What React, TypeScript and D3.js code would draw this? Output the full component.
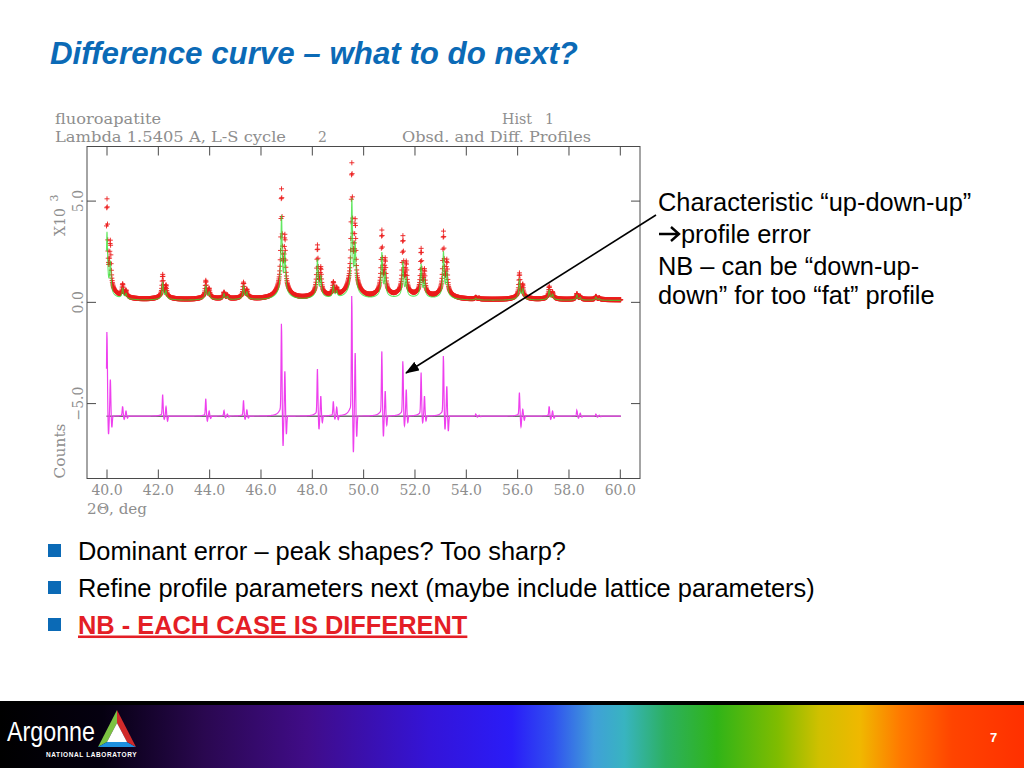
import { useMemo } from 'react';
import * as d3 from 'd3';

// ---- peak table (2θ in deg, counts in units of 10^3) ----
const peakPos = [40.0, 40.61, 42.17, 43.85, 44.56, 45.32, 46.8, 48.2, 48.82, 49.54, 50.71, 51.53, 52.24, 53.11, 54.37, 56.07, 57.23, 58.31, 59.05];
const obsTop = [5.1, 0.78, 1.36, 1.06, 0.46, 0.95, 5.58, 2.75, 0.82, 6.83, 3.46, 3.17, 2.54, 3.46, 0.21, 1.44, 0.78, 0.42, 0.29];
const calcTop = [3.5, 0.62, 0.96, 0.82, 0.4, 0.8, 4.31, 2.1, 0.7, 5.14, 2.43, 1.97, 1.85, 2.51, 0.18, 1.11, 0.62, 0.36, 0.25];

// difference curve: up-down-up-down spikes around each peak (K-alpha1 then K-alpha2)
const diffUp1 = [3.97, 0.46, 0.98, 0.79, 0.25, 0.71, 4.35, 2.13, 0.66, 5.66, 2.93, 2.58, 1.97, 2.83, 0.1, 1.07, 0.46, 0.28, 0.1];
const diffDown1 = [0.9, 0.16, 0.16, 0.25, 0.08, 0.16, 1.48, 0.66, 0.16, 1.8, 1.01, 0.49, 0.33, 0.66, 0.05, 0.53, 0.16, 0.1, 0.05];
const diffUp2 = [1.81, 0.25, 0.46, 0.25, 0.1, 0.3, 2.22, 0.98, 0.41, 3.12, 1.23, 1.31, 0.98, 1.48, 0.05, 0.33, 0.25, 0.15, 0.05];
const diffDown2 = [0.56, 0.1, 0.25, 0.12, 0.05, 0.1, 0.9, 0.33, 0.2, 1.02, 0.46, 0.33, 0.25, 0.74, 0.03, 0.2, 0.1, 0.05, 0.03];

const xTicks = [40, 42, 44, 46, 48, 50, 52, 54, 56, 58, 60];
const xTickLabels = ['40.0', '42.0', '44.0', '46.0', '48.0', '50.0', '52.0', '54.0', '56.0', '58.0', '60.0'];
const yTicks = [5, 0, -5];
const yTickLabels = ['5.0', '0.0', '\u22125.0'];

const OBS_BG = 0.12;
const CALC_BG = 0.09;
const DIFF_ZERO = -5.62;
const KA2_SHIFT = 0.13;
const DATA_START = 39.98;
const DATA_END = 60.02;
const STEP = 0.01;

const bullets = [
  'Dominant error \u2013 peak shapes? Too sharp?',
  'Refine profile parameters next (maybe include lattice parameters)',
];
const noteLines = [
  'Characteristic \u201cup-down-up\u201d',
  'profile error',
  'NB \u2013 can be \u201cdown-up-',
  'down\u201d for too \u201cfat\u201d profile',
];
const noteBaselines = [211, 243, 275, 304];

// plot frame
const F = { left: 87, right: 640, top: 146.5, bottom: 478.5 };
const CHART_FONT = '"DejaVu Serif", serif';
const SANS = '"Liberation Sans", Arial, sans-serif';
const CHART_GRAY = '#8e8e8e';
const BLUE = '#0b6ab6';

const lorentz = (d: number, hw: number) => 1 / (1 + (d / hw) * (d / hw));
const gauss = (d: number, s: number) => Math.exp(-0.5 * (d / s) * (d / s));

// peak heights above are the visible maxima, so the K-alpha2 / tail overlap is taken out
const OVERLAP = 0.94;

function profile(x: number, tops: number[], bg: number, broad: number) {
  let y = bg;
  peakPos.forEach((p, i) => {
    const a = (tops[i] - bg) * OVERLAP;
    y += a * ((1 - broad) * lorentz(x - p, 0.03) + 0.5 * (1 - broad) * lorentz(x - p - KA2_SHIFT, 0.03)
      + broad * lorentz(x - p, 0.25) + 0.5 * broad * lorentz(x - p - KA2_SHIFT, 0.25));
  });
  return y;
}

function difference(x: number) {
  let y = DIFF_ZERO;
  const s = 0.017;
  peakPos.forEach((p, i) => {
    y += diffUp1[i] * gauss(x - p, s)
      - diffDown1[i] * gauss(x - p - 0.06, s)
      + diffUp2[i] * gauss(x - p - KA2_SHIFT, s)
      - diffDown2[i] * gauss(x - p - KA2_SHIFT - 0.06, s);
    if (x < p) y += 0.09 * diffUp1[i] * lorentz(x - p, 0.12);
  });
  return y;
}

export default function App() {
  const x = d3.scaleLinear().domain([40, 60]).range([107, 620.3]);
  const y = d3.scaleLinear().domain([-5, 5]).range([403.6, 201.1]);

  const geo = useMemo(() => {
    const n = Math.round((DATA_END - DATA_START) / STEP);
    const obsX = d3.range(n + 1).map(k => DATA_START + k * STEP);
    const fineX = d3.range(2 * n + 1).map(k => DATA_START + k * STEP / 2);

    let crosses = '';
    obsX.forEach(t => {
      const px = x(t), py = y(profile(t, obsTop, OBS_BG, 0.1));
      crosses += `M${(px - 2.5).toFixed(2)},${py.toFixed(2)}h5M${px.toFixed(2)},${(py - 2.5).toFixed(2)}v5`;
    });

    const line = d3.line<number[]>().x(d => x(d[0])).y(d => y(d[1]));
    const calcPath = line(fineX.map(t => [t, profile(t, calcTop, CALC_BG, 0.08)])) || '';
    const diffPath = line(fineX.map(t => [t, difference(t)])) || '';
    return { crosses, calcPath, diffPath };
  }, []);

  const stops: [number, string][] = [
    [0, '#000000'], [0.1, '#050010'], [0.2, '#2a0850'], [0.3, '#400c88'], [0.42, '#3414d8'],
    [0.5, '#2a1cf8'], [0.54, '#3050f0'], [0.58, '#40a0d8'], [0.61, '#38b4c0'], [0.65, '#2cb060'],
    [0.7, '#30b418'], [0.76, '#80bc00'], [0.8, '#d0c000'], [0.84, '#f0b800'], [0.88, '#ff7800'],
    [0.93, '#ff4400'], [1, '#ff3000'],
  ];

  return (
    <svg width={1024} height={768} style={{ position: 'absolute', left: 0, top: 0, background: '#fff' }}>
      <defs>
        <linearGradient id="rainbow" x1="0" x2="1" y1="0" y2="0">
          {stops.map(([o, c]) => <stop key={o} offset={o} stopColor={c} />)}
        </linearGradient>
        <marker id="arrowHead" viewBox="0 0 14 10" refX={13} refY={5} markerWidth={14} markerHeight={10}
          markerUnits="userSpaceOnUse" orient="auto">
          <path d="M0,0L14,5L0,10z" fill="#000" />
        </marker>
      </defs>

      {/* title */}
      <text x={50} y={64} fontFamily={SANS} fontSize={31} fontWeight="bold" fontStyle="italic" fill={BLUE}
        textLength={528} lengthAdjust="spacingAndGlyphs">Difference curve – what to do next?</text>

      {/* GSAS plot header */}
      <g fontFamily={CHART_FONT} fontSize={14} fill={CHART_GRAY}>
        <text x={55} y={124} textLength={106} lengthAdjust="spacingAndGlyphs">fluoroapatite</text>
        <text x={502} y={124} textLength={30} lengthAdjust="spacingAndGlyphs">Hist</text>
        <text x={545} y={124}>1</text>
        <text x={55} y={142} textLength={231} lengthAdjust="spacingAndGlyphs">Lambda 1.5405 A, L-S cycle</text>
        <text x={318} y={142}>2</text>
        <text x={402} y={142} textLength={189} lengthAdjust="spacingAndGlyphs">Obsd. and Diff. Profiles</text>
      </g>

      {/* frame and ticks */}
      <rect x={F.left} y={F.top} width={F.right - F.left} height={F.bottom - F.top} fill="none" stroke="#4a4a4a" strokeWidth={1} />
      <g stroke="#4a4a4a" strokeWidth={1}>
        {xTicks.map(t => (
          <g key={t}>
            <line x1={x(t)} x2={x(t)} y1={F.bottom} y2={F.bottom - 9} />
            <line x1={x(t)} x2={x(t)} y1={F.top} y2={F.top + 9} />
          </g>
        ))}
        {yTicks.map(t => (
          <g key={t}>
            <line x1={F.left} x2={F.left + 9} y1={y(t)} y2={y(t)} />
            <line x1={F.right} x2={F.right - 9} y1={y(t)} y2={y(t)} />
          </g>
        ))}
      </g>
      <g fontFamily={CHART_FONT} fontSize={14} fill={CHART_GRAY}>
        {xTicks.map((t, i) => (
          <text key={t} x={x(t)} y={495} textAnchor="middle">{xTickLabels[i]}</text>
        ))}
        <text x={87} y={514} textLength={60} lengthAdjust="spacingAndGlyphs">2Θ, deg</text>
        {yTicks.map((t, i) => (
          <text key={t} transform={`translate(83,${y(t)}) rotate(-90)`} textAnchor="middle">{yTickLabels[i]}</text>
        ))}
        <text transform="translate(65,222) rotate(-90)" textAnchor="middle">X10</text>
        <text transform="translate(58,198) rotate(-90)" textAnchor="middle" fontSize={11}>3</text>
        <text transform="translate(65,451) rotate(-90)" textAnchor="middle" textLength={55} lengthAdjust="spacingAndGlyphs">Counts</text>
      </g>

      {/* observed, calculated, difference */}
      <path d={geo.crosses} fill="none" stroke="#ec1d1d" strokeWidth={0.9} />
      <path d={geo.calcPath} fill="none" stroke="#2ee02e" strokeWidth={1.1} strokeOpacity={0.75} />
      <line x1={x(DATA_START)} x2={x(DATA_END)} y1={y(DIFF_ZERO)} y2={y(DIFF_ZERO)} stroke="#222" strokeWidth={1} />
      <path d={geo.diffPath} fill="none" stroke="#ee40ee" strokeWidth={1.2} />

      {/* annotation */}
      <line x1={656} y1={215} x2={406} y2={373} stroke="#000" strokeWidth={1.6} markerEnd="url(#arrowHead)" />
      <path d="M659,234H678M671,227L679,234L671,241" fill="none" stroke="#000" strokeWidth={2.4} strokeLinejoin="miter" />
      <g fontFamily={SANS} fontSize={25.4} fill="#000">
        {noteLines.map((s, i) => (
          <text key={i} x={i === 1 ? 681 : 658} y={noteBaselines[i]}>{s}</text>
        ))}
      </g>

      {/* bullets */}
      <g fontFamily={SANS} fontSize={25.4}>
        {[0, 1, 2].map(i => (
          <rect key={i} x={48} y={544 + i * 37} width={13} height={13} fill={BLUE} />
        ))}
        {bullets.map((s, i) => (
          <text key={i} x={78} y={559.5 + i * 37} fill="#000">{s}</text>
        ))}
        <text x={78} y={633.5} fill="#e41e26" fontWeight="bold" textDecoration="underline">NB - EACH CASE IS DIFFERENT</text>
      </g>

      {/* footer */}
      <rect x={0} y={701} width={1024} height={67} fill="#000" />
      <rect x={0} y={705} width={1024} height={63} fill="url(#rainbow)" />
      <text x={7} y={741} fontFamily={SANS} fontSize={27} fill="#fff" textLength={88} lengthAdjust="spacingAndGlyphs">Argonne</text>
      <text x={46} y={757} fontFamily={SANS} fontSize={6.5} fontWeight="bold"
        fill="#fff" letterSpacing={0.6}>NATIONAL LABORATORY</text>
      <polygon points="117,710 98,747 107,742 117,723" fill="#7cc242" />
      <polygon points="98,747 136,747 127,742 107,742" fill="#1e90e0" />
      <polygon points="136,747 117,710 117,723 127,742" fill="#d02a2a" />
      <polygon points="117,723 107,742 127,742" fill="#fff" />
      <text x={990} y={742} fontFamily={SANS} fontSize={13} fontWeight="bold" fill="#fff">7</text>
    </svg>
  );
}
